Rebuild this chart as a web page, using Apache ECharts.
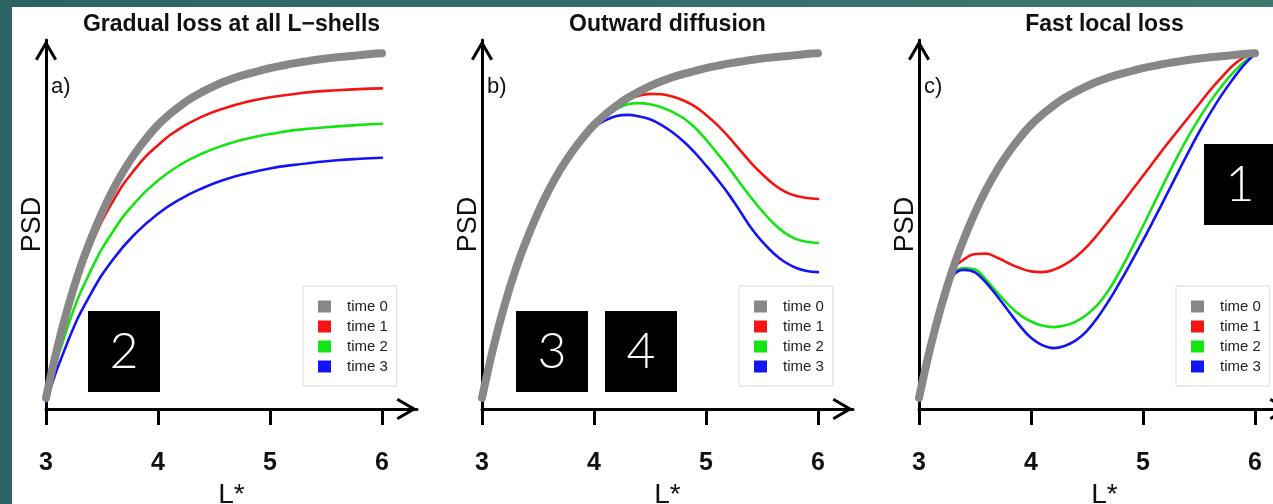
<!DOCTYPE html>
<html>
<head>
<meta charset="utf-8">
<title>PSD profiles</title>
<script src="https://cdn.jsdelivr.net/npm/echarts@6/dist/echarts.min.js"></script>
<style>
  html, body { margin: 0; padding: 0; width: 1273px; height: 504px; overflow: hidden;
    background: linear-gradient(90deg, #2c6464 0%, #346f6e 55%, #3e7a6e 100%); }
  #sheet { position: absolute; left: 12px; top: 7px; right: 0; bottom: 0; background: #fff; }
  #chart { position: absolute; left: 0; top: 0; width: 1273px; height: 504px; }
</style>
</head>
<body>
<div id="sheet"></div>
<div id="chart"></div>
<script>
// L* sampling grids
const L_COARSE = [3.0, 3.2, 3.4, 3.6, 3.8, 4.0, 4.2, 4.4, 4.6, 4.8, 5.0, 5.2, 5.4, 5.6, 5.8, 6.0];
const L_FINE = [3.0, 3.1, 3.2, 3.3, 3.4, 3.5, 3.6, 3.7, 3.8, 3.9, 4.0, 4.1, 4.2, 4.3, 4.4, 4.5,
  4.6, 4.7, 4.8, 4.9, 5.0, 5.1, 5.2, 5.3, 5.4, 5.5, 5.6, 5.7, 5.8, 5.9, 6.0];
const L_TICKS = [3, 4, 5, 6];
const TIMES = ['time 0', 'time 1', 'time 2', 'time 3'];
const PANEL_TITLES = ['Gradual loss at all L\u2212shells', 'Outward diffusion', 'Fast local loss'];
const PANEL_TAGS = ['a)', 'b)', 'c)'];

// initial phase space density profile (same in every panel), on L_FINE
const psdTime0 = [0.03, 0.165, 0.28, 0.378, 0.46, 0.532, 0.595, 0.649, 0.695, 0.735, 0.77, 0.798, 0.822, 0.843, 0.86, 0.875,
  0.888, 0.899, 0.908, 0.916, 0.924, 0.93, 0.936, 0.941, 0.946, 0.95, 0.953, 0.956, 0.959, 0.962, 0.964];

// a) gradual loss, on L_COARSE
const lossT1 = [0.03, 0.27, 0.441, 0.564, 0.652, 0.715, 0.761, 0.793, 0.816, 0.833, 0.845, 0.853, 0.860, 0.864, 0.867, 0.869];
const lossT2 = [0.03, 0.229, 0.375, 0.482, 0.561, 0.619, 0.662, 0.693, 0.716, 0.733, 0.745, 0.755, 0.761, 0.766, 0.770, 0.773];
const lossT3 = [0.02, 0.187, 0.312, 0.406, 0.476, 0.529, 0.569, 0.599, 0.622, 0.639, 0.652, 0.661, 0.668, 0.674, 0.678, 0.681];

// b) outward diffusion, on L_FINE
const diffT1 = [0.03, 0.165, 0.28, 0.378, 0.46, 0.532, 0.595, 0.649, 0.695, 0.735, 0.77, 0.798, 0.82, 0.838, 0.849, 0.854,
  0.853, 0.847, 0.836, 0.82, 0.797, 0.77, 0.738, 0.703, 0.668, 0.637, 0.61, 0.59, 0.578, 0.572, 0.569];
const diffT2 = [0.03, 0.165, 0.28, 0.378, 0.46, 0.532, 0.595, 0.649, 0.695, 0.735, 0.77, 0.795, 0.813, 0.826, 0.829, 0.826,
  0.818, 0.805, 0.788, 0.763, 0.73, 0.693, 0.655, 0.614, 0.574, 0.537, 0.504, 0.478, 0.461, 0.453, 0.45];
const diffT3 = [0.03, 0.165, 0.28, 0.378, 0.46, 0.532, 0.595, 0.649, 0.695, 0.735, 0.763, 0.782, 0.794, 0.797, 0.793, 0.785,
  0.77, 0.75, 0.725, 0.695, 0.66, 0.623, 0.583, 0.538, 0.492, 0.454, 0.423, 0.399, 0.383, 0.374, 0.371];

// c) fast local loss, on L_FINE
const localT1 = [0.03, 0.167, 0.285, 0.377, 0.405, 0.42, 0.421, 0.41, 0.395, 0.382, 0.373, 0.371, 0.377, 0.391, 0.412, 0.44,
  0.475, 0.513, 0.552, 0.592, 0.632, 0.672, 0.712, 0.75, 0.788, 0.826, 0.864, 0.898, 0.93, 0.953, 0.965];
const localT2 = [0.03, 0.167, 0.285, 0.365, 0.382, 0.378, 0.35, 0.315, 0.282, 0.255, 0.237, 0.226, 0.222, 0.226, 0.237, 0.256,
  0.284, 0.325, 0.377, 0.435, 0.496, 0.558, 0.62, 0.68, 0.736, 0.787, 0.833, 0.874, 0.91, 0.94, 0.965];
const localT3 = [0.03, 0.167, 0.285, 0.36, 0.377, 0.37, 0.342, 0.305, 0.265, 0.226, 0.193, 0.173, 0.165, 0.171, 0.186, 0.212,
  0.25, 0.296, 0.347, 0.401, 0.457, 0.515, 0.574, 0.634, 0.693, 0.75, 0.802, 0.85, 0.893, 0.932, 0.962];

const PANELS = [
  { lGrid: L_COARSE, curves: [lossT1, lossT2, lossT3] },
  { lGrid: L_FINE, curves: [diffT1, diffT2, diffT3] },
  { lGrid: L_FINE, curves: [localT1, localT2, localT3] }
];

// layout
const FONT = '"Liberation Sans", Arial, Helvetica, sans-serif';
const GRID_LEFT = [46, 482, 919];
const GRID_TOP = 40, GRID_W = 371, GRID_H = 369;
const X_MAX = 3 + GRID_W / 112;   // axis runs past 6 to leave room for the arrow head
const COLORS = ['#878787', '#f41414', '#14e414', '#1414f4'];
// open chevron arrow head, pointing up in its own frame
const ARROW = 'path://M11,0 L22,19 L19.4,20.5 L11,6 L2.6,20.5 L0,19 Z';

const axisLineBase = {
  onZero: false,
  lineStyle: { color: '#000', width: 3 },
  symbol: ['none', ARROW],
  symbolSize: [22, 20.5],
  symbolOffset: [0, -10.25]
};

const series = [];
PANELS.forEach((p, i) => {
  const smooth = p.lGrid === L_FINE ? 0.4 : 0.5;
  p.curves.forEach((vals, k) => {
    series.push({
      type: 'line', name: TIMES[k + 1], xAxisIndex: i, yAxisIndex: i,
      data: p.lGrid.map((l, j) => [l, vals[j]]),
      showSymbol: false, smooth: smooth, silent: true, z: 3,
      lineStyle: { color: COLORS[k + 1], width: 2.6, cap: 'round', join: 'round' },
      itemStyle: { color: COLORS[k + 1] }
    });
  });
  series.push({
    type: 'line', name: TIMES[0], xAxisIndex: i, yAxisIndex: i,
    data: L_FINE.map((l, j) => [l, psdTime0[j]]),
    showSymbol: false, smooth: 0.4, silent: true, z: 4,
    lineStyle: { color: COLORS[0], width: 8, cap: 'round', join: 'round' },
    itemStyle: { color: COLORS[0] }
  });
});

const graphic = [];
GRID_LEFT.forEach((gl, i) => {
  graphic.push({
    type: 'text', x: gl + GRID_W / 2, y: 25, z: 10,
    style: { text: PANEL_TITLES[i], font: 'bold 23px ' + FONT, fill: '#111', align: 'center', verticalAlign: 'middle' }
  });
  graphic.push({
    type: 'text', x: gl + 5, y: 87, z: 10,
    style: { text: PANEL_TAGS[i], font: '22px ' + FONT, fill: '#111', align: 'left', verticalAlign: 'middle' }
  });
});
// numbered markers
[['2', 88, 311], ['3', 516, 311], ['4', 605, 311], ['1', 1204, 144]].forEach(([t, x, y]) => {
  graphic.push({ type: 'rect', z: 20, shape: { x: x, y: y, width: 72, height: 81 }, style: { fill: '#000' } });
  graphic.push({
    type: 'text', z: 21, x: x + 36, y: y + 41,
    style: { text: t, font: '300 50px Lato, "Open Sans", sans-serif', fill: '#fff', align: 'center', verticalAlign: 'middle' }
  });
});

const option = {
  animation: false,
  backgroundColor: 'transparent',
  grid: GRID_LEFT.map(l => ({ left: l, top: GRID_TOP, width: GRID_W, height: GRID_H, outerBoundsMode: 'none' })),
  xAxis: GRID_LEFT.map((l, i) => ({
    type: 'value', gridIndex: i, min: 3, max: X_MAX,
    name: 'L*', nameLocation: 'middle', nameGap: 69,
    nameTextStyle: { fontSize: 28, fontFamily: FONT, color: '#111' },
    axisLine: axisLineBase,
    axisTick: { show: true, length: 16, customValues: L_TICKS, lineStyle: { color: '#000', width: 3 } },
    axisLabel: { customValues: L_TICKS, margin: 42, fontSize: 25, fontWeight: 'bold', fontFamily: FONT, color: '#111' },
    splitLine: { show: false }
  })),
  yAxis: GRID_LEFT.map((l, i) => ({
    type: 'value', gridIndex: i, min: 0, max: 1,
    name: 'PSD', nameLocation: 'middle', nameGap: 0,
    nameTextStyle: { fontSize: 27, fontFamily: FONT, color: '#111' },
    axisLine: Object.assign({ show: true }, axisLineBase),
    axisTick: { show: false }, axisLabel: { show: false }, splitLine: { show: false }
  })),
  legend: GRID_LEFT.map(l => ({
    left: l + 257, top: 286, orient: 'vertical', data: TIMES, icon: 'rect',
    itemWidth: 13, itemHeight: 12, itemGap: 5, padding: [13, 9, 12, 15],
    backgroundColor: '#fff', borderColor: '#d9d9d9', borderWidth: 1,
    selectedMode: false, itemStyle: { borderWidth: 0 },
    textStyle: { fontSize: 15, lineHeight: 15, fontFamily: FONT, color: '#222', padding: [0, 0, 0, 11] }
  })),
  series: series,
  graphic: graphic
};

const chart = echarts.init(document.getElementById('chart'), null, { renderer: 'canvas' });
chart.setOption(option);
</script>
</body>
</html>
